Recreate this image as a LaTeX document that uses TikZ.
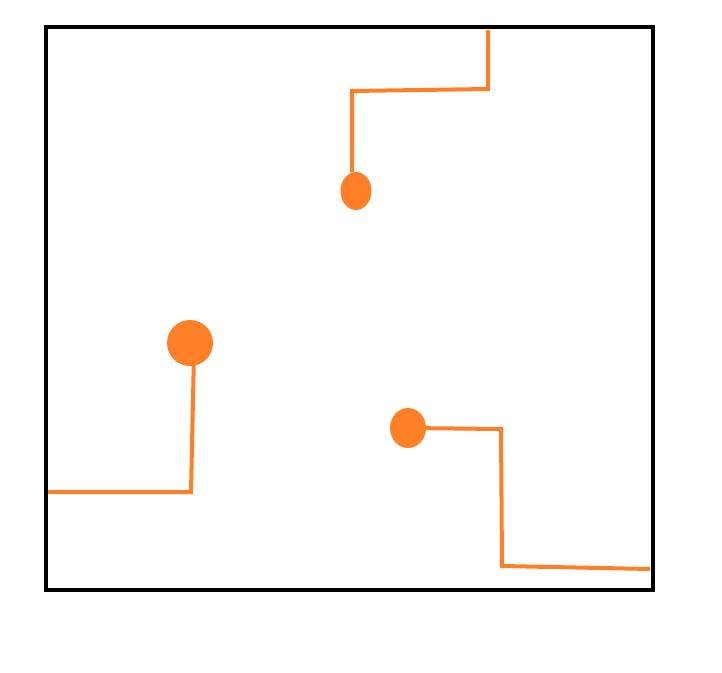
\documentclass[tikz,border=0pt]{standalone}
\usetikzlibrary{shapes.geometric}
\definecolor{paintorange}{HTML}{FF7F27}
\tikzset{
  frame/.style={draw=black, line width=4pt},
  wire/.style={draw=paintorange, line width=4pt, line join=miter},
  dot/.style={ellipse, fill=paintorange, draw=none, inner sep=0pt}
}
\begin{document}
\begin{tikzpicture}[x=1pt, y=-1pt]
  \useasboundingbox (0,0) rectangle (722,672);
  \draw[frame] (46,27) rectangle (653,590);
  % top wire
  \node[dot, minimum width=31pt, minimum height=38pt] (d1) at (356,191) {};
  \coordinate (t0) at (488,30);
  \coordinate (t1) at (488,89);
  \coordinate (t2) at (352,91);
  \draw[wire] (t0) -- (t1) -- (t2) -- (t2 |- d1.north);
  % left wire
  \node[dot, circle, minimum size=46pt] (d2) at (190,343) {};
  \coordinate (l1) at (191,492);
  \coordinate (l2) at (48,492);
  \draw[wire] (194,352) -- (l1) -- (l2);
  % bottom-right wire
  \node[dot, minimum width=36pt, minimum height=40pt] (d3) at (408,428) {};
  \coordinate (b1) at (501,429);
  \coordinate (b2) at (502,566);
  \coordinate (b3) at (650,569);
  \draw[wire] (d3.center) -- (b1) -- (b2) -- (b3);
\end{tikzpicture}
\end{document}
